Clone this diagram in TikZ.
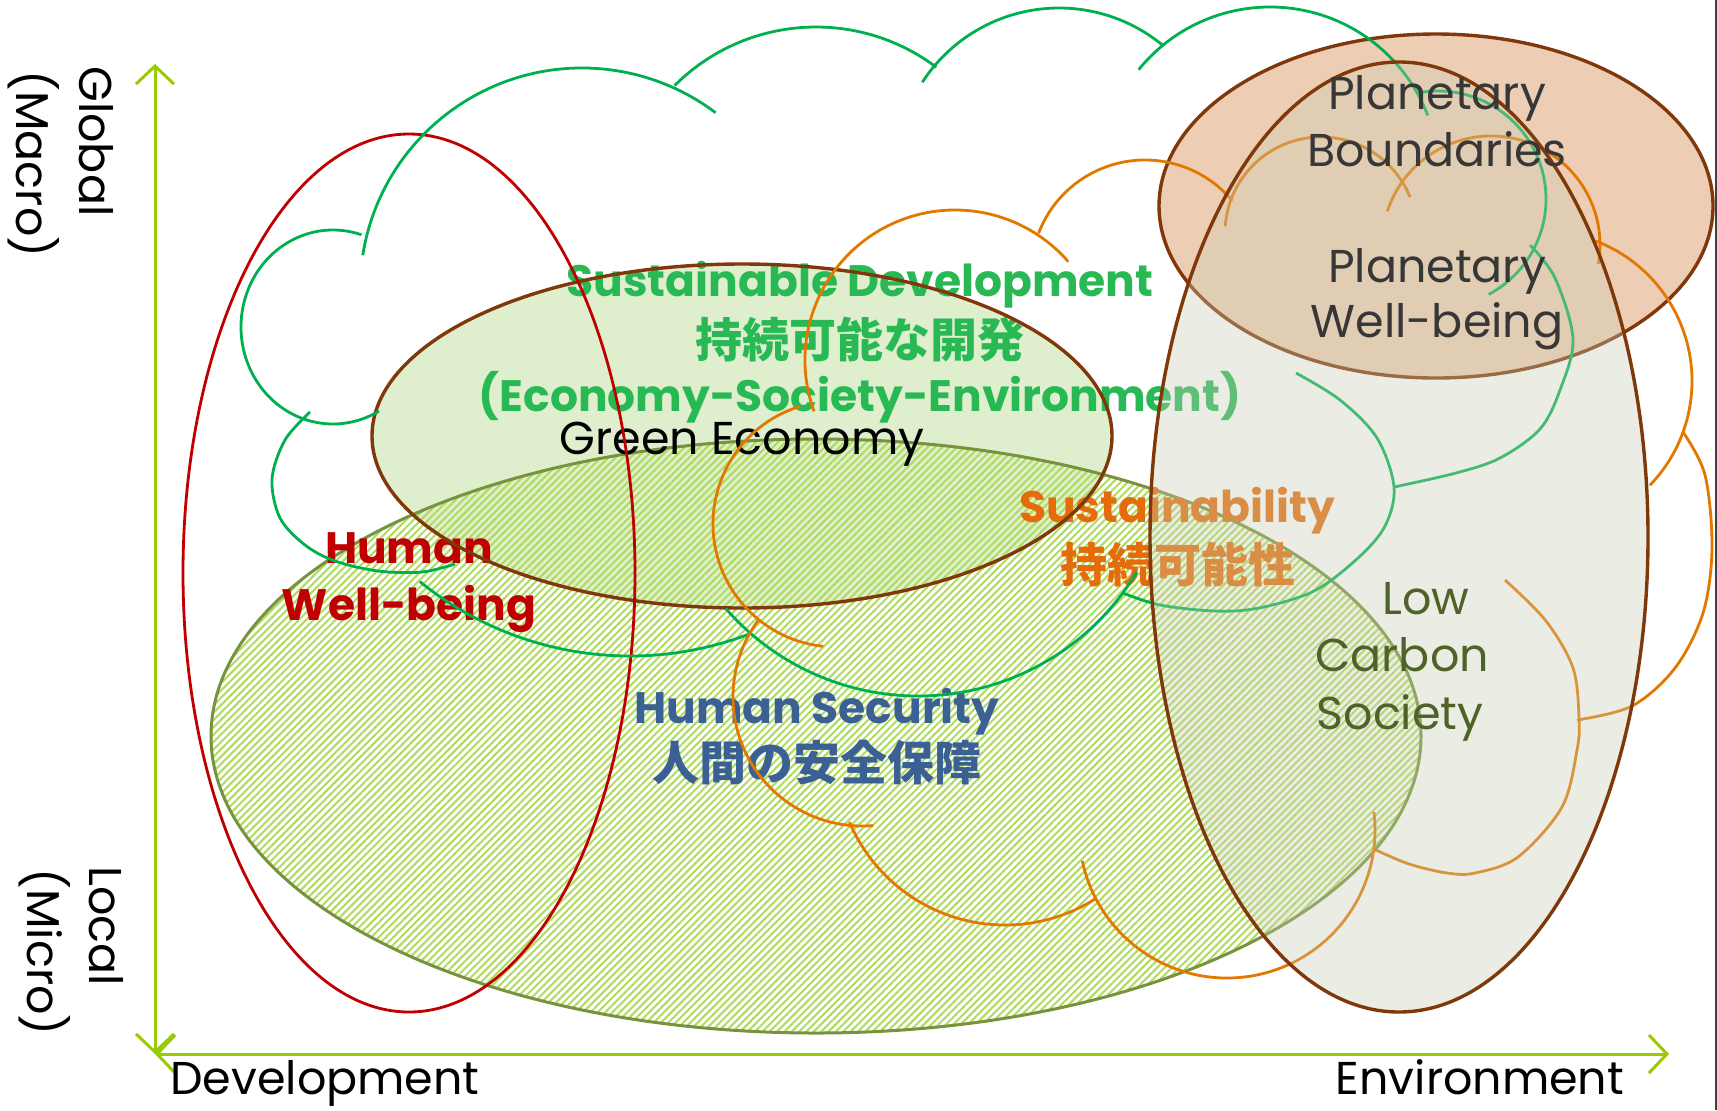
\documentclass[tikz,border=0pt]{standalone}
\usepackage{fontspec}
\setmainfont{Poppins}
\newfontfamily\cjk{Noto Sans CJK JP}
\usetikzlibrary{arrows.meta,patterns.meta}
\definecolor{axisg}{RGB}{153,204,0}
\definecolor{cgreen}{RGB}{0,176,80}
\definecolor{corange}{RGB}{226,120,0}
\definecolor{brownb}{RGB}{128,56,10}
\definecolor{sdfill}{RGB}{223,239,206}
\definecolor{hatchc}{RGB}{174,219,92}
\definecolor{olivec}{RGB}{119,147,60}
\definecolor{peach}{RGB}{238,205,181}
\definecolor{grayf}{RGB}{200,205,180}
\definecolor{redc}{RGB}{192,0,0}
\definecolor{sdtext}{RGB}{40,185,85}
\definecolor{sustext}{RGB}{228,108,10}
\definecolor{hstext}{RGB}{58,96,148}
\definecolor{pbtext}{RGB}{55,55,55}
\definecolor{lctext}{RGB}{79,98,40}
\newcommand\fReg{\fontsize{23}{28}\selectfont}
\newcommand\fBold{\fontsize{22}{26}\selectfont\bfseries}
\newcommand\fCJK{\cjk\fontsize{23.5}{28}\selectfont\bfseries}
\begin{document}
\begin{tikzpicture}[x=0.5pt,y=-0.5pt,
  lbl/.style={inner sep=0pt, anchor=base},
  cjklbl/.style={inner sep=0pt, anchor=center, font=\fCJK},
  cloudG/.style={draw=cgreen, line width=1.4pt},
  cloudO/.style={draw=corange, line width=1.4pt},
  axisline/.style={draw=axisg, line width=1.5pt, {Straight Barb[length=9pt,width=19pt]}-{Straight Barb[length=9pt,width=19pt]}},
  sm/.style={smooth, tension=0.55}]
\path[use as bounding box, fill=white] (0,0) rectangle (1717,1110);

% Planetary Boundaries ellipse (under clouds)
\draw[fill=peach, draw=brownb, line width=1.7pt] (1436,206) ellipse [x radius=277, y radius=172];

% Sustainable development ellipse fill
\fill[sdfill] (742,436) ellipse [x radius=370, y radius=172];

% Human security hatched ellipse
\fill[pattern={Lines[angle=45,distance=2.6pt,line width=1.0pt]}, pattern color=hatchc] (816,736) ellipse [x radius=605, y radius=297];
\draw[olivec, line width=1.5pt] (816,736) ellipse [x radius=605, y radius=297];

% texts under clouds
\node[lbl, text=sdtext, font=\fBold] (sdA) at (860,296) {Sustainable Development};
\node[cjklbl, text=sdtext] (sdB) at (860,340) {持続可能な開発};
\node[lbl, text=sdtext, font=\fBold] (sdC) at (860,411) {(Economy-Society-Environment)};
\node[lbl, text=black, font=\fReg] (ge) at (742,454) {Green Economy};
\node[lbl, text=redc, font=\fBold] (hw1) at (409,563) {Human};
\node[lbl, text=redc, font=\fBold] (hw2) at (409,620) {Well-being};
\node[lbl, text=sustext, font=\fBold] (sus1) at (1177,522) {Sustainability};
\node[cjklbl, text=sustext] (sus2) at (1178,564) {持続可能性};
\node[lbl, text=hstext, font=\fBold] (hs1) at (817,723) {Human Security};
\node[cjklbl, text=hstext] (hs2) at (817,763) {人間の安全保障};

% SD border
\draw[brownb, line width=1.7pt] (742,436) ellipse [x radius=370, y radius=172];

% Human well-being ellipse
\draw[redc, line width=1.4pt] (409,573) ellipse [x radius=226, y radius=439];

% green cloud
\draw[cloudG] (582,290) ++(189:222) arc[start angle=189, end angle=307, radius=222];
\draw[cloudG] (816,227) ++(225:200) arc[start angle=225, end angle=307, radius=200];
\draw[cloudG] (1059,171) ++(213:163) arc[start angle=213, end angle=310, radius=163];
\draw[cloudG] (1270,176) ++(219:169) arc[start angle=219, end angle=339, radius=169];
\draw[cloudG] (1438,199) ++(259:108) arc[start angle=259, end angle=422, radius=108];
\draw[cloudG] plot[sm] coordinates {(1530,245) (1555,278) (1573,339) (1560,390) (1540,429) (1500,458) (1456,473) (1394,487)};
\draw[cloudG] plot[sm] coordinates {(1296,373) (1340,400) (1377,438) (1394,487) (1385,526) (1358,558) (1314,591) (1259,608) (1215,611) (1160,605) (1123,593)};
\draw[cloudG] (918,441) ++(31:255) arc[start angle=31, end angle=139, radius=255];
\draw[cloudG] (630,322) ++(69:334) arc[start angle=69, end angle=129, radius=334];
\draw[cloudG] plot[sm] coordinates {(310,412) (285,440) (272,479) (280,518) (305,545) (335,561) (378,571) (422,572) (455,564)};
\draw[cloudG] (333,327) ++(288:92 and 97) arc[start angle=288, end angle=60, x radius=92, y radius=97];

% orange cloud
\draw[cloudO] (955,360) ++(160:150) arc[start angle=160, end angle=319, radius=150];
\draw[cloudO] (1145,274) ++(201:114) arc[start angle=201, end angle=320, radius=114];
\draw[cloudO] (1321,233) ++(184:96) arc[start angle=184, end angle=338, radius=96];
\draw[cloudO] (1491,245) ++(198:109) arc[start angle=198, end angle=370, radius=109];
\draw[cloudO] (1542,381) ++(291:150) arc[start angle=291, end angle=404, radius=150];
\draw[cloudO] plot[sm] coordinates {(1683,432) (1705,475) (1712,548) (1703,613) (1675,668) (1632,706) (1577,720)};
\draw[cloudO] plot[sm] coordinates {(1505,580) (1546,621) (1573,668) (1579,718) (1577,750) (1562,807) (1518,857) (1475,873) (1447,873) (1409,864) (1376,850)};
\draw[cloudO] (1227,830) ++(168:148) arc[start angle=168, end angle=-7, radius=148];
\draw[cloudO] (1005,756) ++(157:169) arc[start angle=157, end angle=57.5, radius=169];
\draw[cloudO] (862,697) ++(217:129) arc[start angle=217, end angle=85, radius=129];
\draw[cloudO] (836,524) ++(253:123) arc[start angle=253, end angle=96, radius=123];

% Low carbon society ellipse (translucent, on top)
\fill[grayf, fill opacity=0.35] (1399,537) ellipse [x radius=249, y radius=475];
\draw[brownb, line width=1.7pt] (1399,537) ellipse [x radius=249, y radius=475];

% top texts
\node[lbl, text=pbtext, font=\fReg] (pb1) at (1437,109) {Planetary};
\node[lbl, text=pbtext, font=\fReg] (pb2) at (1437,166) {Boundaries};
\node[lbl, text=pbtext, font=\fReg] (pw1) at (1437,282) {Planetary};
\node[lbl, text=pbtext, font=\fReg] (pw2) at (1437,337) {Well-being};
\node[lbl, text=lctext, font=\fReg] (lc1) at (1426,614) {Low};
\node[lbl, text=lctext, font=\fReg] (lc2) at (1402,671) {Carbon};
\node[lbl, text=lctext, font=\fReg] (lc3) at (1400,729) {Society};

% axes
\coordinate (O) at (155,1054);
\coordinate (Ytop) at (155,64);
\coordinate (Xend) at (1669,1054);
\draw[axisline] (Ytop) -- (O);
\draw[axisline] (O) -- (Xend);
\node[lbl, font=\fReg] (dev) at (325,1094) {Development};
\node[lbl, font=\fReg] (env) at (1480,1094) {Environment};
\node[inner sep=0pt, rotate=-90, anchor=west, font=\fReg] (glob) at (96,66) {Global};
\node[inner sep=0pt, rotate=-90, anchor=west, font=\fReg] (macro) at (34,70) {(Macro)};
\node[inner sep=0pt, rotate=-90, anchor=west, font=\fReg] (loc) at (106,866) {Local};
\node[inner sep=0pt, rotate=-90, anchor=west, font=\fReg] (micro) at (45,868) {(Micro)};

% right edge line
\coordinate (E1) at (1716,0);
\coordinate (E2) at (1716,1110);
\draw[black!75, line width=0.6pt] (E1) -- (E2);
\end{tikzpicture}
\end{document}
